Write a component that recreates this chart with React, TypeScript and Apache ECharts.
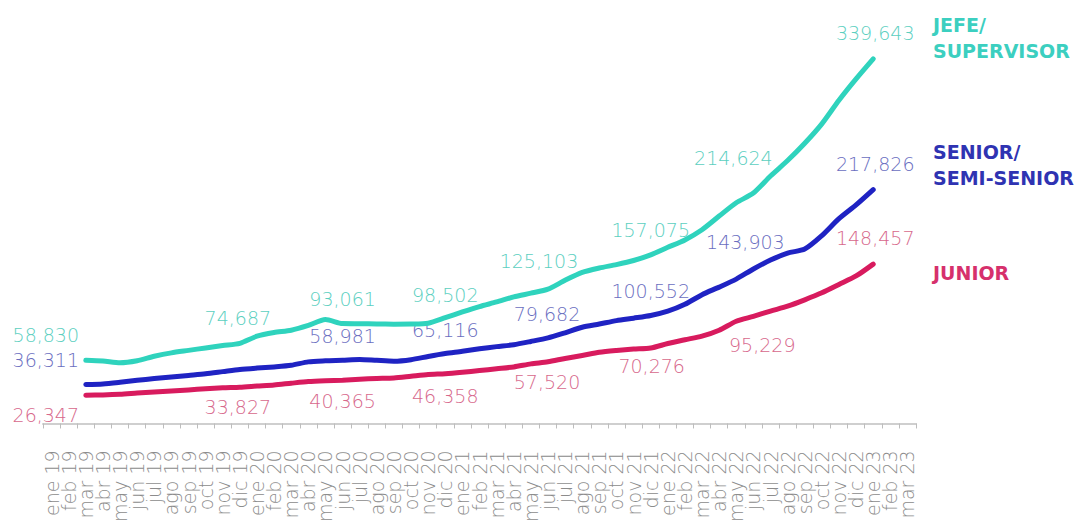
import React, { useEffect, useRef } from "react";
import * as echarts from "echarts";

// ---- data ----
const MONTHS = ["ene", "feb", "mar", "abr", "may", "jun", "jul", "ago", "sep", "oct", "nov", "dic"];
const YEARS = ["19", "20", "21", "22", "23"];
const categories: string[] = YEARS.flatMap((y) => MONTHS.map((m) => `${m} ${y}`)).slice(0, 51);

// series start at "mar 19" (category index 2) and end at "ene 23" (index 48)
const FIRST_INDEX = 2;

const jefe = [
  58830, 58150, 56600, 58500, 62600, 65800, 68100, 70400, 72600, 74687,
  81300, 84700, 86900, 91300, 96800, 93061, 92900, 92700, 92500, 92600,
  93400, 98502, 103900, 108900, 113200, 117900, 121400, 125103, 133400, 140700,
  144800, 148000, 151800, 157075, 164100, 171000, 180500, 193200, 205600, 214624,
  230500, 244900, 261000, 279100, 301100, 321000, 339643,
];
const senior = [
  36311, 36800, 38400, 40300, 41800, 43300, 44800, 46300, 48300, 50300,
  51600, 52700, 54200, 57400, 58400, 58981, 59700, 58800, 58000, 59400,
  62400, 65116, 67200, 69600, 71600, 73400, 76400, 79682, 84500, 89600,
  92600, 95800, 98100, 100552, 104600, 111000, 120000, 127000, 134500, 143903,
  152200, 158700, 162500, 175000, 190800, 203600, 217826,
];
const junior = [
  26347, 26600, 27200, 28300, 29300, 30300, 31300, 32400, 33300, 33827,
  34900, 35900, 37500, 39000, 39800, 40365, 41300, 41900, 42400, 44000,
  45600, 46358, 47700, 49300, 51000, 52700, 55500, 57520, 60600, 63300,
  66300, 68000, 69300, 70276, 74500, 78000, 81300, 86800, 95229, 99800,
  104700, 109300, 115200, 121700, 129500, 137400, 148457,
];
const seriesNames = ["JEFE/\nSUPERVISOR", "SENIOR/\nSEMI-SENIOR", "JUNIOR"];

// category indices whose value is printed
const jefeLabelIdx = [2, 11, 17, 23, 29, 35, 41, 48];
const seniorLabelIdx = [2, 17, 23, 29, 35, 41, 48];
const juniorLabelIdx = [2, 11, 17, 23, 29, 35, 40, 48];

// ---- layout / style (not data) ----
const labelOffsets: Record<string, Record<number, [number, number]>> = {
  jefe: { 2: [-40, -25], 11: [-2, -25], 17: [0, -25], 23: [0, -23], 29: [-9, -28], 35: [0, -25], 41: [-20, -35], 48: [2, -26] },
  senior: { 2: [-40, -25], 17: [0, -24], 23: [0, -24], 29: [-1, -24], 35: [0, -25], 41: [-8, -27], 48: [2, -26] },
  junior: { 2: [-40, 20], 11: [-2, 20], 17: [0, 21], 23: [0, 22], 29: [-1, 20], 35: [1, 18], 40: [26, 24], 48: [2, -26] },
};
const lineColors = ["#2fd3bd", "#1f23c3", "#d81b5e"];
const labelColors = ["#5ccfbf", "#6a6ebf", "#d7688c"];
const legendColors = ["#3ccfc0", "#2f33b2", "#d6306c"];
const FONT = '"DejaVu Sans", sans-serif';

const fmt = (v: number) => v.toLocaleString("en-US");

function buildData(values: number[], labelIdx: number[], key: string, color: string) {
  const out: any[] = categories.map(() => "-");
  values.forEach((v, k) => {
    const i = FIRST_INDEX + k;
    if (labelIdx.includes(i)) {
      const off = labelOffsets[key][i] || [0, -25];
      out[i] = {
        value: v,
        label: {
          show: true,
          position: "inside",
          offset: off,
          color,
          fontFamily: FONT,
          fontWeight: 200,
          fontSize: 19,
          formatter: (p: any) => fmt(p.value),
        },
      };
    } else {
      out[i] = v;
    }
  });
  return out;
}

export default function App() {
  const ref = useRef<HTMLDivElement>(null);
  useEffect(() => {
    if (!ref.current) return;
    const chart = echarts.init(ref.current, undefined, { renderer: "svg" });
    const mk = (name: string, values: number[], idx: number[], key: string, ci: number) => ({
      name,
      type: "line",
      data: buildData(values, idx, key, labelColors[ci]),
      symbol: "circle",
      symbolSize: 1,
      showSymbol: true,
      smooth: 0.25,
      itemStyle: { color: lineColors[ci] },
      lineStyle: { color: lineColors[ci], width: 5, cap: "round", join: "round" },
      emphasis: { disabled: true },
      connectNulls: false,
      z: 3 - ci,
    });
    const legendGraphics: any[] = [];
    const legendLines: [string, number, number][] = [
      ["JEFE/", 25, 0],
      ["SUPERVISOR", 51, 0],
      ["SENIOR/", 152, 1],
      ["SEMI-SENIOR", 178, 1],
      ["JUNIOR", 273, 2],
    ];
    legendLines.forEach(([t, y, c]) => {
      legendGraphics.push({
        type: "text",
        x: 933,
        y,
        style: {
          text: t,
          fill: legendColors[c],
          font: `bold 19px ${FONT}`,
          textVerticalAlign: "middle",
          verticalAlign: "middle",
        },
      });
    });
    chart.setOption({
      animation: false,
      backgroundColor: "#ffffff",
      grid: { left: 43, right: 165, top: 37, bottom: 92, containLabel: false },
      xAxis: {
        type: "category",
        data: categories,
        boundaryGap: true,
        axisLine: { lineStyle: { color: "#cfcfcf", width: 2 } },
        axisTick: { show: true, length: 5, lineStyle: { color: "#bdbdbd", width: 1 } },
        axisLabel: {
          interval: 0,
          rotate: 90,
          margin: 21,
          color: "#8c8c8c",
          fontFamily: FONT,
          fontWeight: 200,
          fontSize: 19,
          padding: [9, 0, 0, 0],
        },
      },
      yAxis: {
        type: "value",
        min: -5500,
        max: 360000,
        show: false,
        splitLine: { show: false },
      },
      series: [
        mk(seriesNames[0], jefe, jefeLabelIdx, "jefe", 0),
        mk(seriesNames[1], senior, seniorLabelIdx, "senior", 1),
        mk(seriesNames[2], junior, juniorLabelIdx, "junior", 2),
      ],
      graphic: legendGraphics,
    });
    return () => chart.dispose();
  }, []);
  return (
    <div
      ref={ref}
      style={{ position: "absolute", left: 0, top: 0, width: 1081, height: 525, background: "#fff" }}
    />
  );
}
